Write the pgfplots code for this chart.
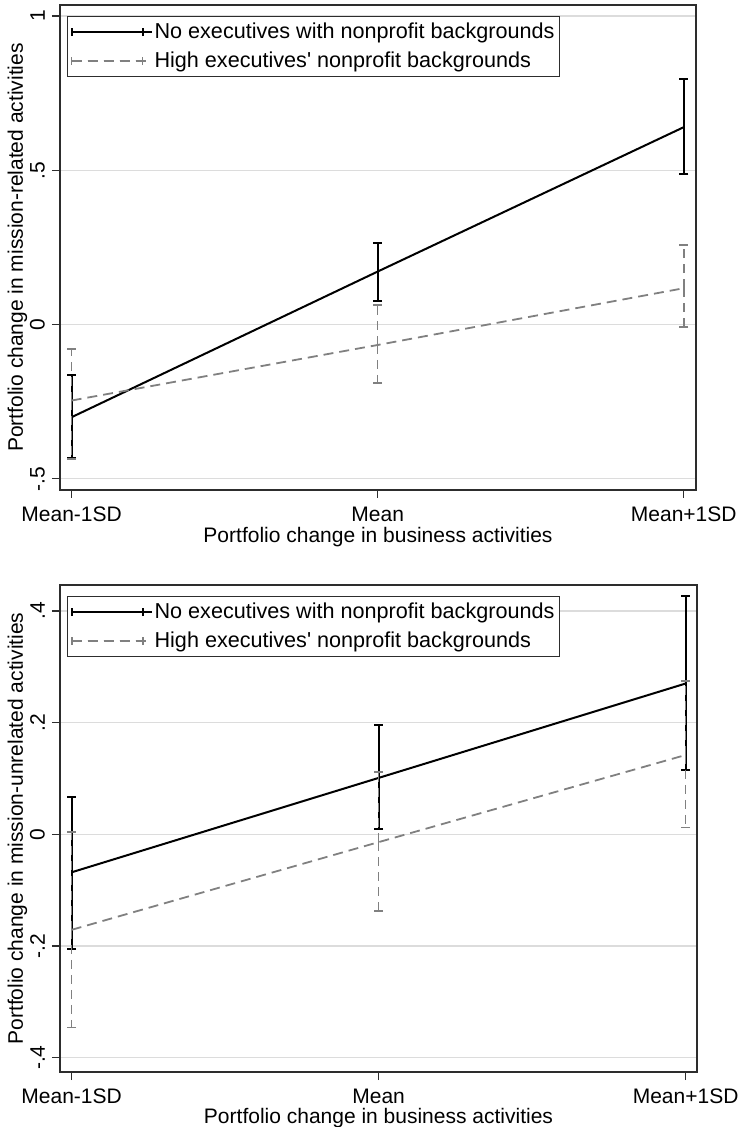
\documentclass[border=0pt]{standalone}
\usepackage{pgfplots}
\pgfplotsset{compat=1.18}
\usepackage{fontspec}
\setmainfont{Liberation Sans}
\newfontfamily\rawfont{Liberation Sans}
\definecolor{gridc}{RGB}{220,220,220}
\definecolor{dgray}{RGB}{128,128,128}
\definecolor{axc}{RGB}{45,45,45}
\newcommand{\fs}{\fontsize{21pt}{25pt}\selectfont}
\newcommand{\fl}{\fontsize{21.6pt}{25pt}\selectfont}
\begin{document}
\fs
\begin{tikzpicture}
\useasboundingbox (0,0) rectangle (739pt,1127pt);
\pgfplotsset{
  mystyle/.style={
    scale only axis,
    xtick={0,1,2},
    xticklabels={Mean-1SD,Mean,Mean+1SD},
    tick align=outside,
    xtick pos=bottom, ytick pos=left,
    major tick length=8pt,
    tick style={line width=1.2pt, color=axc},
    axis line style={line width=1.5pt, color=axc},
    ymajorgrids,
    grid style={line width=1.2pt, color=gridc},
    ticklabel style={font=\fs},
    xticklabel style={yshift=-8pt, inner ysep=1pt},
    yticklabel style={rotate=90, anchor=south},
    label style={font=\fs, inner ysep=1pt},
    xlabel={Portfolio change in business activities},
    legend style={at={(0.011,0.977)}, anchor=north west, draw=axc, line width=1.2pt,
      font=\fl, row sep=6pt, inner xsep=3pt, inner ysep=4pt},
    legend cell align=left,
    legend image code/.code={
      \path (0pt,0pt) -- (80pt,0pt);
      \draw[##1] (0pt,0pt) -- (71pt,0pt);
      \draw[##1,solid] (0pt,-4pt) -- (0pt,4pt);
      \draw[##1,solid] (71pt,-4pt) -- (71pt,4pt);
    },
    /pgf/number format/assume math mode=true,
  },
  solidser/.style={black, line width=2pt, mark=none, error bars/.cd, y dir=both, y explicit,
    error mark=-,
    error bar style={line width=2pt, black, solid},
    error mark options={rotate=90, line width=2pt, black, solid, mark size=4.5pt}},
  dashser/.style={dgray, line width=1.8pt, dash pattern=on 10pt off 6pt, mark=none,
    error bars/.cd, y dir=both, y explicit,
    error mark=-,
    error bar style={line width=1.6pt, dgray, dash pattern=on 9pt off 6pt},
    error mark options={rotate=90, line width=1.6pt, dgray, solid, mark size=4.5pt}},
}
\begin{axis}[mystyle,
  at={(60pt,637pt)}, anchor=south west,
  width=636pt, height=485pt,
  xmin=-0.038, xmax=2.04,
  ymin=-0.536, ymax=1.036,
  ytick={-0.5,0,0.5,1},
  yticklabels={{-.5},{0},{.5},{1}},
  ylabel={Portfolio change in mission-related activities},
  ylabel style={at={(axis description cs:-0.0582,0.5)}, anchor=base},
  xlabel style={at={(axis description cs:0.5,-0.109)}, anchor=base},
]
\addplot[solidser] coordinates {
  (0,-0.300) += (0,0.137) -= (0,0.131)
  (1,0.172) += (0,0.092) -= (0,0.095)
  (2,0.640) += (0,0.157) -= (0,0.153)
};
\addlegendentry{No executives with nonprofit backgrounds}
\addplot[dashser] coordinates {
  (0,-0.246) += (0,0.167) -= (0,0.190)
  (1,-0.066) += (0,0.130) -= (0,0.124)
  (2,0.118) += (0,0.140) -= (0,0.126)
};
\addlegendentry{High executives{\rawfont'} nonprofit backgrounds}
\end{axis}
\begin{axis}[mystyle,
  at={(60pt,55pt)}, anchor=south west,
  width=637pt, height=487pt,
  xmin=-0.038, xmax=2.037,
  ymin=-0.4256, ymax=0.4464,
  ytick={-0.4,-0.2,0,0.2,0.4},
  yticklabels={{-.4},{-.2},{0},{.2},{.4}},
  ylabel={Portfolio change in mission-unrelated activities},
  ylabel style={at={(axis description cs:-0.0581,0.5)}, anchor=base},
  xlabel style={at={(axis description cs:0.5,-0.1067)}, anchor=base},
]
\addplot[solidser] coordinates {
  (0,-0.068) += (0,0.135) -= (0,0.137)
  (1,0.101) += (0,0.095) -= (0,0.092)
  (2,0.270) += (0,0.157) -= (0,0.154)
};
\addlegendentry{No executives with nonprofit backgrounds}
\addplot[dashser] coordinates {
  (0,-0.171) += (0,0.175) -= (0,0.175)
  (1,-0.014) += (0,0.126) -= (0,0.123)
  (2,0.142) += (0,0.133) -= (0,0.130)
};
\addlegendentry{High executives{\rawfont'} nonprofit backgrounds}
\end{axis}
\end{tikzpicture}
\end{document}
